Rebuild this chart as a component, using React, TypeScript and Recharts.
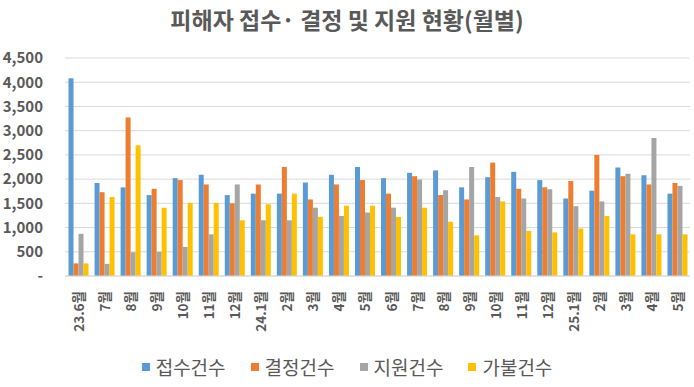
import React from "react";
import { BarChart, Bar, XAxis, YAxis, CartesianGrid, Legend } from "recharts";

const months = [
  "23.6월", "7월", "8월", "9월", "10월", "11월", "12월", "24.1월", "2월", "3월", "4월", "5월",
  "6월", "7월", "8월", "9월", "10월", "11월", "12월", "25.1월", "2월", "3월", "4월", "5월",
];
const received = [4080, 1920, 1830, 1670, 2020, 2090, 1670, 1700, 1700, 1930, 2090, 2250, 2020, 2130, 2180, 1830, 2040, 2150, 1980, 1600, 1760, 2240, 2080, 1700];
const decided = [260, 1730, 3270, 1800, 1980, 1890, 1500, 1890, 2250, 1580, 1890, 1980, 1700, 2060, 1670, 1580, 2340, 1800, 1830, 1960, 2500, 2060, 1890, 1920];
const supported = [870, 250, 490, 500, 600, 860, 1890, 1150, 1150, 1410, 1240, 1310, 1410, 1990, 1770, 2250, 1630, 1600, 1790, 1440, 1540, 2110, 2850, 1860];
const advance = [260, 1630, 2700, 1410, 1510, 1510, 1150, 1480, 1700, 1220, 1450, 1450, 1220, 1410, 1120, 840, 1540, 930, 900, 980, 1240, 860, 860, 860];
const yTicks = [0, 500, 1000, 1500, 2000, 2500, 3000, 3500, 4000, 4500];

const seriesNames = ["접수건수", "결정건수", "지원건수", "가불건수"];
const seriesColors = ["#5B9BD5", "#ED7D31", "#A5A5A5", "#FFC000"];

const data = months.map((m, i) => ({
  label: m,
  [seriesNames[0]]: received[i],
  [seriesNames[1]]: decided[i],
  [seriesNames[2]]: supported[i],
  [seriesNames[3]]: advance[i],
}));

const FONT = '"Noto Sans CJK KR", "Noto Sans", sans-serif';
const TEXT = "#595959";

const XTick = (props: any) => {
  const { x, y, payload } = props;
  const ty = y + 7;
  return (
    <text
      x={x}
      y={ty}
      transform={`rotate(-90, ${x}, ${ty})`}
      textAnchor="end"
      dominantBaseline="central"
      fill={TEXT}
      fontSize={13.5}
      fontWeight="bold"
      fontFamily={FONT}
    >
      {payload.value}
    </text>
  );
};

const LegendContent = (props: any) => {
  const payload = [...(props.payload || [])].sort(
    (a: any, b: any) => seriesNames.indexOf(a.value) - seriesNames.indexOf(b.value)
  );
  return (
    <div
      style={{
        width: 694,
        height: 24,
        display: "flex",
        justifyContent: "center",
        alignItems: "center",
        fontFamily: FONT,
      }}
    >
      {payload.map((p: any, i: number) => (
        <div
          key={i}
          style={{
            display: "flex",
            alignItems: "center",
            marginRight: i < payload.length - 1 ? 25 : 0,
          }}
        >
          <div style={{ width: 8, height: 8, background: p.color, marginRight: 6 }} />
          <span style={{ fontSize: 19, color: TEXT, lineHeight: "24px" }}>{p.value}</span>
        </div>
      ))}
    </div>
  );
};

export default function App() {
  return (
    <div
      style={{
        position: "absolute",
        left: 0,
        top: 0,
        width: 694,
        height: 387,
        background: "#fff",
        fontFamily: FONT,
      }}
    >
      <div
        style={{
          position: "absolute",
          top: 4,
          left: 0,
          width: 694,
          textAlign: "center",
          fontSize: 23,
          fontWeight: "bold",
          color: TEXT,
          lineHeight: "30px",
        }}
      >
        피해자 접수· 결정 및 지원 현황(월별)
      </div>
      <BarChart
        width={694}
        height={387}
        data={data}
        margin={{ top: 58, right: 4, bottom: 8, left: 0 }}
        barCategoryGap="13.5%"
        barGap={0}
      >
        <CartesianGrid horizontal vertical={false} stroke="#D9D9D9" />
        <XAxis
          dataKey="label"
          interval={0}
          height={79}
          tickLine={false}
          axisLine={{ stroke: "#D9D9D9" }}
          tick={<XTick />}
        />
        <YAxis
          width={65}
          domain={[0, 4500]}
          ticks={yTicks}
          interval={0}
          axisLine={false}
          tickLine={false}
          tickMargin={16}
          tick={{ fill: TEXT, fontSize: 15, fontWeight: "bold", fontFamily: FONT }}
          tickFormatter={(v: number) => (v === 0 ? "-" : v.toLocaleString("en-US"))}
        />
        <Legend
          verticalAlign="bottom"
          height={24}
          wrapperStyle={{ left: 0, width: 694 }}
          content={<LegendContent />}
        />
        {seriesNames.map((name, i) => (
          <Bar key={name} dataKey={name} fill={seriesColors[i]} isAnimationActive={false} />
        ))}
      </BarChart>
    </div>
  );
}
